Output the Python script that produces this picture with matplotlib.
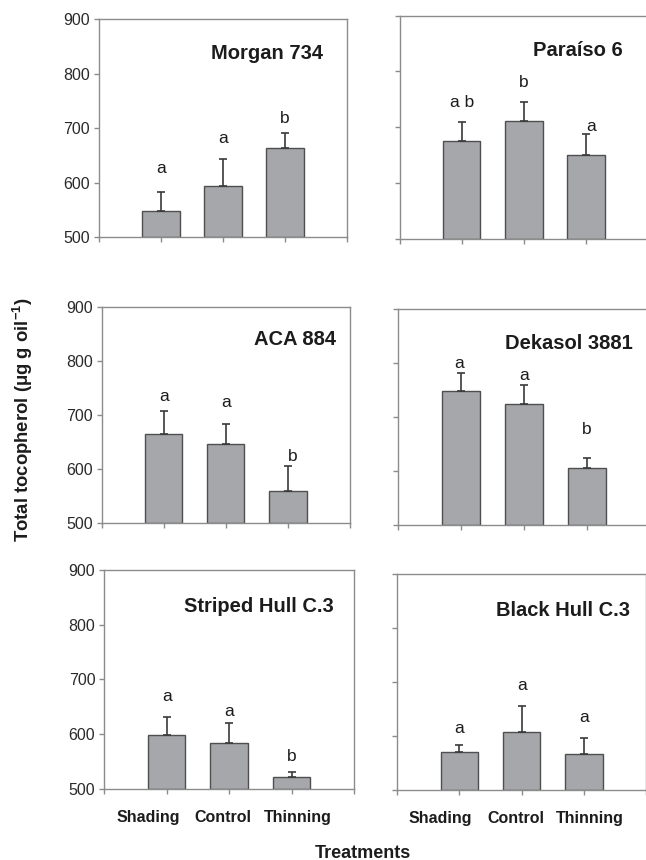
import numpy as np
import matplotlib
matplotlib.use('Agg')
import matplotlib.pyplot as plt

plt.rcParams['font.family'] = ['Liberation Sans', 'DejaVu Sans']
plt.rcParams['mathtext.fontset'] = 'custom'
plt.rcParams['mathtext.rm'] = 'Liberation Sans'
plt.rcParams['mathtext.bf'] = 'Liberation Sans:bold'

# data
treatments = ['Shading', 'Control', 'Thinning']
hybrids = ['Morgan 734', 'Paraíso 6', 'ACA 884',
           'Dekasol 3881', 'Striped Hull C.3', 'Black Hull C.3']

morgan_mean = [548, 594, 663]
morgan_err = [35, 50, 29]
paraiso_mean = [676, 711, 650]
paraiso_err = [33, 35, 38]
aca_mean = [664, 646, 558]
aca_err = [43, 37, 48]
dekasol_mean = [749, 725, 606]
dekasol_err = [33, 34, 18]
striped_mean = [598, 584, 522]
striped_err = [34, 37, 9]
black_mean = [570, 607, 566]
black_err = [14, 49, 30]

means = [morgan_mean, paraiso_mean, aca_mean, dekasol_mean, striped_mean, black_mean]
errs = [morgan_err, paraiso_err, aca_err, dekasol_err, striped_err, black_err]

# significance letters and where they sit (y value)
letters = [['a', 'a', 'b'], ['a b', 'b', 'a'], ['a', 'a', 'b'],
           ['a', 'a', 'b'], ['a', 'a', 'b'], ['a', 'a', 'a']]
letter_y = [[627, 682, 718], [744, 780, 701], [734, 723, 623],
            [799, 777, 677], [668, 642, 559], [614, 694, 635]]
letter_dx = [[0, 0, 0], [0, 0, 0.09], [0, 0, 0.07],
             [-0.03, 0, 0], [0, 0, 0], [0, 0, 0]]

# axes boxes in pixels: left, right, top, bottom
W, H = 646, 860
boxes = [(99, 347, 19.3, 237.3), (399.5, 648.2, 15.7, 238.7),
         (101.7, 350, 307.3, 522.7), (397.7, 649.7, 309.3, 525.3),
         (104.3, 354, 570, 788.7), (397, 646.3, 574.3, 790)]
title_x = [0.903, 0.898, 0.942, 0.932, 0.917, 0.934]
title_y = [0.844, 0.842, 0.851, 0.843, 0.832, 0.831]
cat_x = [-0.3, 0.9, 2.1]

bar_color = '#a6a7aa'
edge_color = '#4f4f4f'
spine_color = '#8c8c8c'
text_color = '#1c1c1c'

fig = plt.figure(figsize=(W / 100, H / 100), dpi=100)

for i, (l, r, t, b) in enumerate(boxes):
    ax = fig.add_axes([l / W, 1 - b / H, (r - l) / W, (b - t) / H])
    x = np.arange(len(treatments))
    ax.bar(x, np.array(means[i]) - 500, bottom=500, width=0.6,
           color=bar_color, edgecolor=edge_color, linewidth=1.0, zorder=2)
    ax.errorbar(x, means[i], yerr=[np.zeros(3), errs[i]], fmt='none',
                ecolor='#3a3a3a', elinewidth=1.2, capsize=3, capthick=1.2, zorder=3)
    for j in range(3):
        ax.text(x[j] + letter_dx[i][j], letter_y[i][j], letters[i][j],
                ha='center', va='center', fontsize=12.5, color=text_color)
    ax.text(title_x[i], title_y[i], hybrids[i], transform=ax.transAxes,
            ha='right', va='center', fontsize=14.5, fontweight='bold',
            color=text_color)

    ax.set_xlim(-1, 3)
    ax.set_ylim(500, 900)
    ax.set_yticks([500, 600, 700, 800, 900])
    ax.set_xticks([-1, 0, 1, 2, 3])
    ax.set_xticklabels([])
    if i % 2 == 1:
        ax.set_yticklabels([])
    ax.tick_params(axis='both', direction='out', length=3.5, width=1,
                   color=spine_color, labelsize=11.5, labelcolor='#2a2a2a', pad=3)
    for sp in ax.spines.values():
        sp.set_color(spine_color)
        sp.set_linewidth(1.0)

    if i >= 4:
        for j in range(3):
            ax.text(cat_x[j], -0.133, treatments[j], transform=ax.get_xaxis_transform(),
                    ha='center', va='center', fontsize=11.5, fontweight='bold',
                    color=text_color)

fig.text(363 / W, 1 - 853 / H, 'Treatments', ha='center', va='center',
         fontsize=13, fontweight='bold', color=text_color)
fig.text(23 / W, 1 - 420 / H, r'Total tocopherol (μg g oil$^{\mathbf{-1}}$)',
         rotation=90, ha='center', va='center', fontsize=13.3,
         fontweight='bold', color=text_color)

fig.savefig('out.png', dpi=100)
